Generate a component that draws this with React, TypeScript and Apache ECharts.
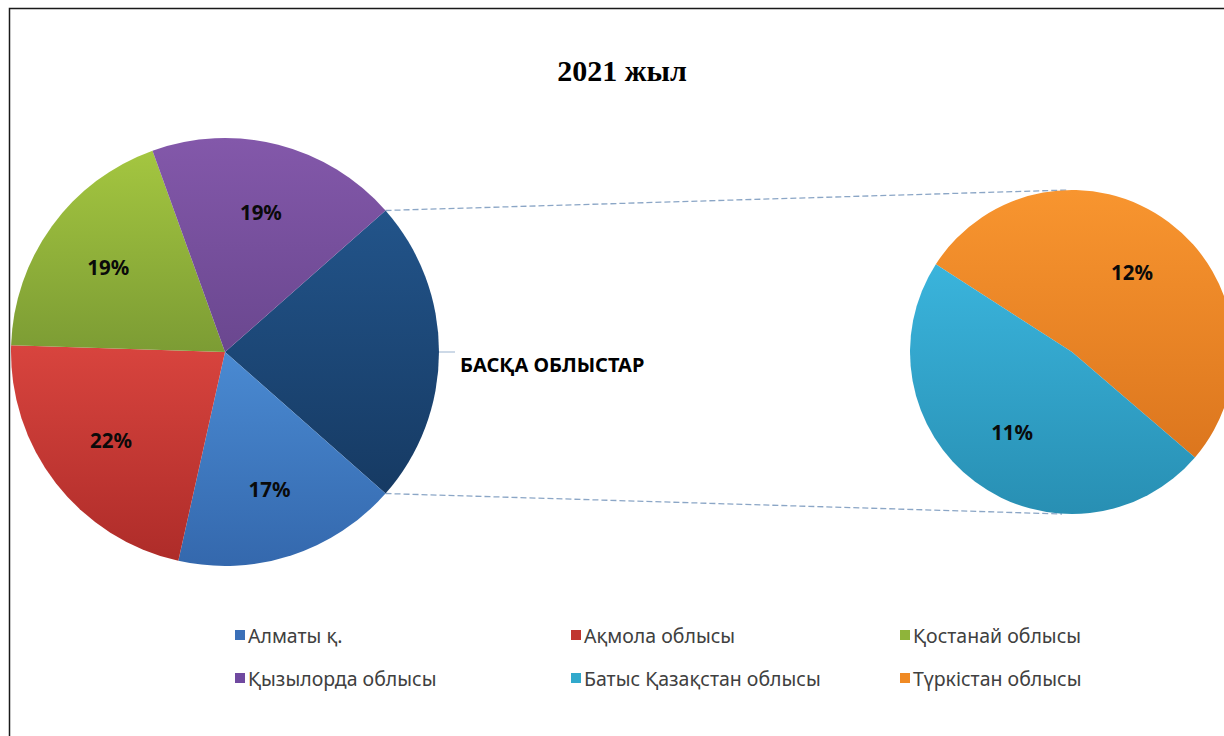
import React, { useEffect, useRef } from "react";
import * as echarts from "echarts";

const titleText = "2021 жыл";
const otherName = "БАСҚА ОБЛЫСТАР";
const mainNames = ["Алматы қ.", "Ақмола облысы", "Қостанай облысы", "Қызылорда облысы"];
const mainValues = [17, 22, 19, 19];
const subNames = ["Түркістан облысы", "Батыс Қазақстан облысы"];
const subValues = [12, 11];
const legendCols = [
  ["Алматы қ.", "Қызылорда облысы"],
  ["Ақмола облысы", "Батыс Қазақстан облысы"],
  ["Қостанай облысы", "Түркістан облысы"],
];

const grad: Record<string, [string, string]> = {
  [otherName]: ["#22548a", "#163a63"],
  "Алматы қ.": ["#4a8ad2", "#3468ad"],
  "Ақмола облысы": ["#d8443e", "#ae2c29"],
  "Қостанай облысы": ["#a4c640", "#7c9c34"],
  "Қызылорда облысы": ["#8358aa", "#6a478f"],
  "Түркістан облысы": ["#f8952f", "#dc761e"],
  "Батыс Қазақстан облысы": ["#3ab4dc", "#288fb3"],
};
const legendColor: Record<string, string> = {
  "Алматы қ.": "#3b70b8",
  "Ақмола облысы": "#c0352f",
  "Қостанай облысы": "#8fb43a",
  "Қызылорда облысы": "#7049a0",
  "Түркістан облысы": "#f08a24",
  "Батыс Қазақстан облысы": "#31a9cc",
};

function fill(name: string) {
  const [a, b] = grad[name];
  return new echarts.graphic.LinearGradient(0, 0, 0, 1, [
    { offset: 0, color: a },
    { offset: 1, color: b },
  ]);
}

export default function App() {
  const ref = useRef<HTMLDivElement>(null);
  useEffect(() => {
    if (!ref.current) return;
    const chart = echarts.init(ref.current, undefined, { renderer: "svg" });

    const cy = 352;
    const c1x = 225, r1 = 214;
    const c2x = 1072, r2 = 162;
    const otherValue = subValues.reduce((s, v) => s + v, 0);
    const total = otherValue + mainValues.reduce((s, v) => s + v, 0);
    const half = ((otherValue / total) * 360) / 2;
    const a = (half * Math.PI) / 180;
    const px = c1x + r1 * Math.cos(a);
    const pyTop = cy - r1 * Math.sin(a);
    const pyBot = cy + r1 * Math.sin(a);

    const leftData = [
      {
        name: otherName,
        value: otherValue,
        itemStyle: { color: fill(otherName) },
        label: {
          show: true,
          position: "outside",
          formatter: otherName,
          fontFamily: "Noto Sans",
          fontWeight: "bold",
          fontSize: 20,
          color: "#000",
        },
        labelLine: { show: true, length: 4, length2: 12, lineStyle: { color: "#9bb3cf", width: 1 } },
      },
      ...mainNames.map((n, i) => ({ name: n, value: mainValues[i], itemStyle: { color: fill(n) } })),
    ];
    const leftLabelData = [
      { name: otherName, value: otherValue, label: { show: false } },
      ...mainNames.map((n, i) => ({ name: n, value: mainValues[i] })),
    ];
    const rightData = subNames.map((n, i) => ({ name: n, value: subValues[i], itemStyle: { color: fill(n) } }));
    const rightLabelData = subNames.map((n, i) => ({ name: n, value: subValues[i] }));

    const pctLabel = {
      show: true,
      position: "inside",
      formatter: (p: any) => `${p.value}%`,
      fontFamily: "Noto Sans",
      fontWeight: "bold",
      fontSize: 20.5,
      color: "#0a0a0a",
    };

    const legends = legendCols.map((col, ci) => ({
      orient: "vertical",
      left: [230, 566, 895][ci],
      top: 619,
      itemWidth: 10,
      itemHeight: 10,
      itemGap: 21,
      icon: "rect",
      selectedMode: false,
      textStyle: { fontFamily: "Noto Sans", fontSize: 19.5, color: "#404040", lineHeight: 22, padding: [0, 0, 0, -2] },
      data: col.map((n) => ({ name: n, itemStyle: { color: legendColor[n] } })),
    }));

    chart.setOption({
      animation: false,
      backgroundColor: "#ffffff",
      legend: legends,
      graphic: [
        {
          type: "rect",
          shape: { x: 9.5, y: 8.5, width: 1400, height: 900 },
          style: { fill: "none", stroke: "#1a1a1a", lineWidth: 1.5 },
          z: 100,
        },
        {
          type: "text",
          x: 622,
          y: 70,
          style: {
            text: titleText,
            align: "center",
            verticalAlign: "middle",
            font: "bold 30px 'Liberation Serif', 'Times New Roman', serif",
            fill: "#000",
          },
        },
        {
          type: "line",
          shape: { x1: px, y1: pyTop, x2: c2x - 4, y2: cy - r2 },
          style: { stroke: "#8ba6c6", lineWidth: 1.3, lineDash: [6, 3] },
        },
        {
          type: "line",
          shape: { x1: px, y1: pyBot, x2: c2x - 10, y2: cy + r2 },
          style: { stroke: "#8ba6c6", lineWidth: 1.3, lineDash: [6, 3] },
        },
      ],
      series: [
        {
          type: "pie",
          center: [c1x, cy],
          radius: [0, r1],
          startAngle: half,
          clockwise: true,
          avoidLabelOverlap: false,
          label: { show: false },
          labelLine: { show: false },
          labelLayout: { dy: 12 },
          emphasis: { disabled: true },
          data: leftData,
          z: 2,
        },
        {
          type: "pie",
          center: [c1x, cy],
          radius: [r1 * 0.32, r1],
          startAngle: half,
          clockwise: true,
          silent: true,
          itemStyle: { color: "rgba(0,0,0,0)" },
          label: pctLabel,
          labelLine: { show: false },
          emphasis: { disabled: true },
          data: leftLabelData,
          z: 3,
        },
        {
          type: "pie",
          center: [c2x, cy],
          radius: [0, r2],
          startAngle: 147.2,
          clockwise: true,
          label: { show: false },
          labelLine: { show: false },
          emphasis: { disabled: true },
          data: rightData,
          z: 2,
        },
        {
          type: "pie",
          center: [c2x, cy],
          radius: [r2 * 0.2, r2],
          startAngle: 147.2,
          clockwise: true,
          silent: true,
          itemStyle: { color: "rgba(0,0,0,0)" },
          label: pctLabel,
          labelLine: { show: false },
          emphasis: { disabled: true },
          data: rightLabelData,
          z: 3,
        },
      ],
    });
    return () => chart.dispose();
  }, []);
  return (
    <div
      ref={ref}
      style={{ position: "absolute", left: 0, top: 0, width: 1224, height: 736, background: "#fff" }}
    />
  );
}
